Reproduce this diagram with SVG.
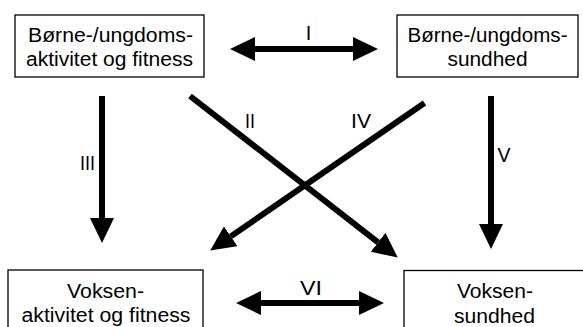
<svg xmlns="http://www.w3.org/2000/svg" width="583" height="327" viewBox="0 0 583 327">
<style>
.box{fill:#fff;stroke:#000;stroke-width:1.3}
.t{font-family:"Liberation Sans",Arial,sans-serif;font-size:20px;fill:#000;text-anchor:middle}
.c{stroke:#000;stroke-width:6;fill:none}
</style>
<defs>
<marker id="ah" markerUnits="userSpaceOnUse" markerWidth="26" markerHeight="25" refX="0" refY="12" orient="auto-start-reverse" viewBox="0 0 26 25">
<path d="M0,0 L25,12 L0,24 z" fill="#000"/>
</marker>
</defs>
<rect width="583" height="327" fill="#fff"/>
<g id="n1">
<rect class="box" x="15" y="15" width="189" height="62"/>
<text class="t" x="110.5" y="41.5" textLength="165" lengthAdjust="spacingAndGlyphs">Børne-/ungdoms-</text>
<text class="t" x="109.5" y="66" textLength="167" lengthAdjust="spacingAndGlyphs">aktivitet og fitness</text>
</g>
<g id="n2">
<rect class="box" x="397" y="15" width="181" height="62"/>
<text class="t" x="487.5" y="41.5" textLength="160" lengthAdjust="spacingAndGlyphs">Børne-/ungdoms-</text>
<text class="t" x="487.5" y="66" textLength="80" lengthAdjust="spacingAndGlyphs">sundhed</text>
</g>
<g id="n3">
<rect class="box" x="8" y="270" width="195" height="70"/>
<text class="t" x="105.5" y="297.5" textLength="77" lengthAdjust="spacingAndGlyphs">Voksen-</text>
<text class="t" x="106" y="322" textLength="169" lengthAdjust="spacingAndGlyphs">aktivitet og fitness</text>
</g>
<g id="n4">
<rect class="box" x="404" y="270.5" width="182" height="70"/>
<text class="t" x="495" y="298" textLength="76" lengthAdjust="spacingAndGlyphs">Voksen-</text>
<text class="t" x="494.5" y="322.5" textLength="81" lengthAdjust="spacingAndGlyphs">sundhed</text>
</g>
<g id="connectors">
<line class="c" x1="255" y1="49" x2="353" y2="49" marker-start="url(#ah)" marker-end="url(#ah)"/>
<line class="c" x1="261" y1="303" x2="359" y2="303" marker-start="url(#ah)" marker-end="url(#ah)"/>
<line class="c" x1="102" y1="96" x2="102" y2="218" marker-end="url(#ah)"/>
<line class="c" x1="491" y1="96" x2="491" y2="224" marker-end="url(#ah)"/>
<line class="c" x1="190" y1="96" x2="378.05" y2="242.26" marker-end="url(#ah)"/>
<line class="c" x1="424.5" y1="103" x2="230.77" y2="236.39" marker-end="url(#ah)"/>
<text class="t" x="308.5" y="40">I</text>
<text class="t" x="250" y="127.5" textLength="10" lengthAdjust="spacingAndGlyphs">II</text>
<text class="t" x="87.5" y="170" textLength="15" lengthAdjust="spacingAndGlyphs">III</text>
<text class="t" x="361" y="127.5" textLength="20" lengthAdjust="spacingAndGlyphs">IV</text>
<text class="t" x="504" y="162" textLength="13" lengthAdjust="spacingAndGlyphs">V</text>
<text class="t" x="311" y="295" textLength="22" lengthAdjust="spacingAndGlyphs">VI</text>
</g>
</svg>
